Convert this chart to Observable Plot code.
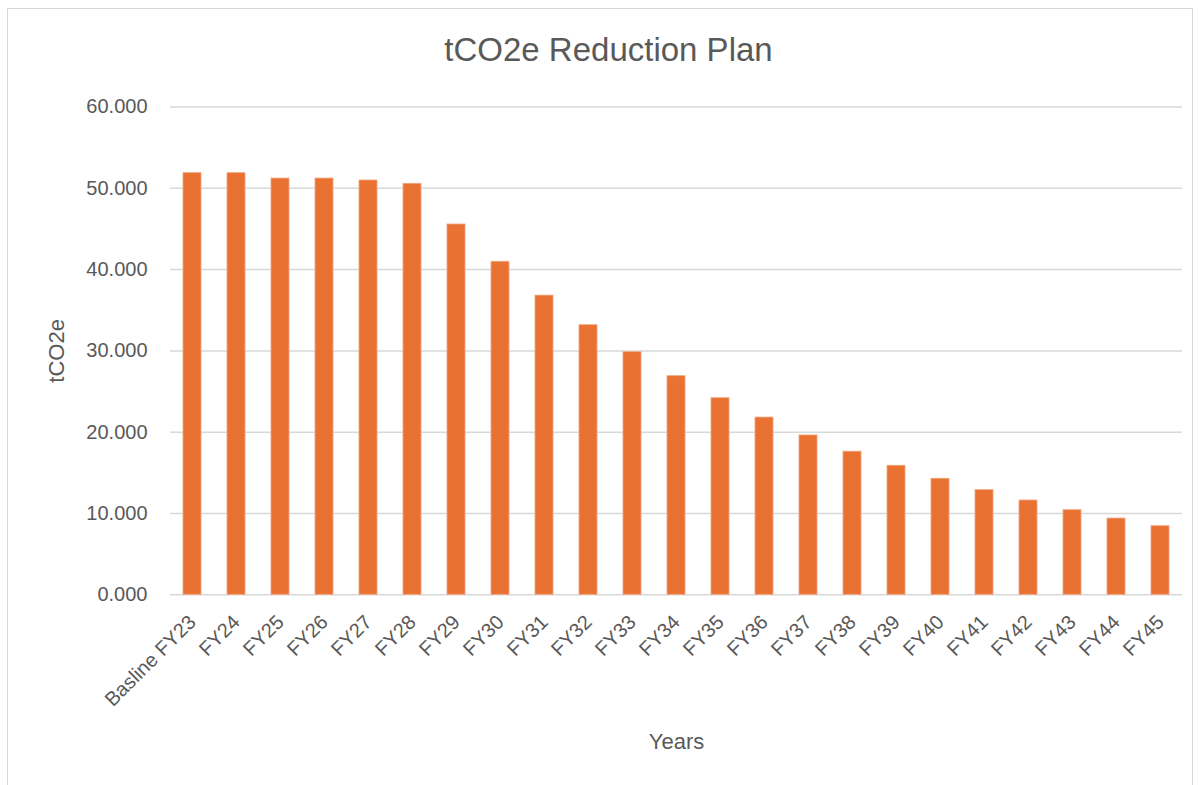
<!DOCTYPE html>
<html>
<head>
<meta charset="utf-8">
<script src="https://cdn.jsdelivr.net/npm/d3@7"></script>
<script src="https://cdn.jsdelivr.net/npm/@observablehq/plot@0.6"></script>
<style>
  html, body { margin: 0; padding: 0; background: #fff; }
  #wrap { position: relative; width: 1199px; height: 785px; overflow: hidden; font-family: "Liberation Sans", Arial, sans-serif; }
  #frame { position: absolute; left: 7px; top: 8px; width: 1186px; height: 780px; border: 1px solid #D9D9D9; box-sizing: border-box; }
  #title { position: absolute; left: 9px; width: 1199px; top: 31px; text-align: center; font-size: 33px; color: #595959; font-family: "Liberation Sans", Arial, sans-serif; }
  #chart { position: absolute; left: 0; top: 90px; }
</style>
</head>
<body>
<div id="wrap">
  <div id="frame"></div>
  <div id="title">tCO2e Reduction Plan</div>
  <div id="chart"></div>
</div>
<script>
const years = ["Basline FY23","FY24","FY25","FY26","FY27","FY28","FY29","FY30","FY31","FY32","FY33","FY34","FY35","FY36","FY37","FY38","FY39","FY40","FY41","FY42","FY43","FY44","FY45"];
const values = [51.86,51.86,51.2,51.2,50.96,50.55,45.55,40.96,36.8,33.16,29.84,26.89,24.18,21.8,19.6,17.6,15.87,14.27,12.87,11.6,10.4,9.38,8.44];
const yTicks = [0,10,20,30,40,50,60];
const xLabel = "Years";
const yLabel = "tCO2e";

const data = years.map((y, i) => ({year: y, value: values[i]}));

const chart = Plot.plot({
  width: 1199,
  height: 695,
  marginTop: 16.5,
  marginLeft: 170,
  marginRight: 17,
  marginBottom: 190.7,
  style: {fontFamily: "Liberation Sans, Arial, sans-serif", color: "#595959", background: "transparent"},
  x: {domain: years, paddingInner: 0.6, paddingOuter: 0.3},
  y: {domain: [0, 60]},
  marks: [
    Plot.gridY(yTicks, {stroke: "#D9D9D9", strokeOpacity: 1, strokeWidth: 1.5}),
    Plot.barY(data, {x: "year", y: "value", fill: "#E97132", stroke: "#F2A57C", strokeWidth: 0.8}),
    Plot.axisY(yTicks, {
      tickSize: 0, tickPadding: 23, tickFormat: d3.format(".3f"),
      fontSize: 20, fill: "#595959",
      label: yLabel, labelAnchor: "center", labelOffset: 122, labelArrow: "none"
    }),
    Plot.axisX({
      tickSize: 0, tickPadding: 24, tickRotate: -45,
      fontSize: 20, fill: "#595959",
      label: xLabel, labelAnchor: "center", labelOffset: 154, labelArrow: "none"
    })
  ]
});
document.getElementById("chart").appendChild(chart);
chart.querySelectorAll("g[aria-label='y-axis label'] text, g[aria-label='x-axis label'] text").forEach(t => {
  t.setAttribute("font-size", "22");
});
</script>
</body>
</html>
